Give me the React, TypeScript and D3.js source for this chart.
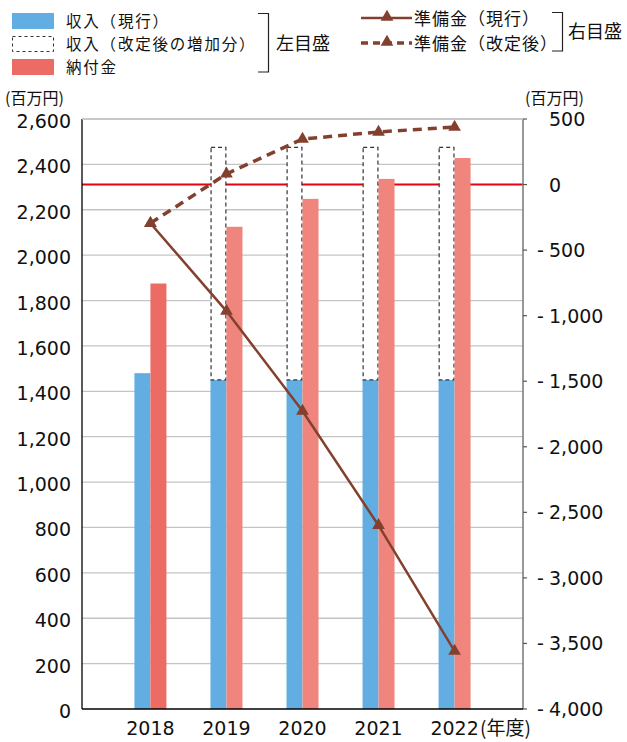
import { useEffect, useRef } from 'react';
import * as d3 from 'd3';

// 年度
const years = ["2018", "2019", "2020", "2021", "2022"];
// 左目盛 (百万円)
const incomeCurrent = [1480, 1450, 1450, 1450, 1450];
const incomeIncrease = [0, 1025, 1025, 1025, 1025];
const payments = [1875, 2125, 2248, 2336, 2428];
// 右目盛 (百万円)
const reserveCurrent = [-295, -965, -1727, -2600, -3558];
const reserveRevised = [-295, 81, 347, 401, 439];

const leftTicks = [0, 200, 400, 600, 800, 1000, 1200, 1400, 1600, 1800, 2000, 2200, 2400, 2600];
const rightTicks = [500, 0, -500, -1000, -1500, -2000, -2500, -3000, -3500, -4000];

const W = 627;
const H = 742;
const JP = "'Noto Sans CJK JP', sans-serif";
const NUM = "'DejaVu Sans', 'Noto Sans CJK JP', sans-serif";

const BLUE = "#62aee2";
const RED = "#f0857d";
const RED_2018 = "#ec6b65";
const BROWN = "#84402f";

export default function App() {
  const svgRef = useRef<SVGSVGElement>(null);

  useEffect(() => {
    if (!svgRef.current) return;
    const svg = d3.select(svgRef.current);
    svg.selectAll("*").remove();

    const left = 82, right = 523, top = 119, bottom = 709;

    const x = d3.scalePoint().domain(years).range([left, right]).padding(0.9);
    const yL = d3.scaleLinear().domain([0, 2600]).range([bottom, top]);
    const yR = d3.scaleLinear().domain([-4000, 500]).range([bottom, top]);
    const barW = 16;

    // grid lines
    svg.append("g")
      .selectAll("line")
      .data(leftTicks.filter(d => d > 0))
      .enter()
      .append("line")
      .attr("x1", left)
      .attr("x2", right)
      .attr("y1", d => yL(d))
      .attr("y2", d => yL(d))
      .attr("stroke", "#c4c4c4")
      .attr("stroke-width", 1.3);

    // zero line of right axis
    svg.append("line")
      .attr("x1", left)
      .attr("x2", right)
      .attr("y1", yR(0))
      .attr("y2", yR(0))
      .attr("stroke", "#e60012")
      .attr("stroke-width", 2);

    // income (current)
    svg.append("g")
      .selectAll("rect")
      .data(years)
      .enter()
      .append("rect")
      .attr("x", d => (x(d) || 0) - barW)
      .attr("width", barW)
      .attr("y", (d, i) => yL(incomeCurrent[i]))
      .attr("height", (d, i) => bottom - yL(incomeCurrent[i]))
      .attr("fill", BLUE);

    // income (revised increase) dashed boxes
    svg.append("g")
      .selectAll("rect")
      .data(years.filter((d, i) => incomeIncrease[i] > 0))
      .enter()
      .append("rect")
      .attr("x", d => (x(d) || 0) - barW + 0.6)
      .attr("width", barW - 1.2)
      .attr("y", d => {
        const i = years.indexOf(d);
        return yL(incomeCurrent[i] + incomeIncrease[i]);
      })
      .attr("height", d => {
        const i = years.indexOf(d);
        return yL(incomeCurrent[i]) - yL(incomeCurrent[i] + incomeIncrease[i]);
      })
      .attr("fill", "#fff")
      .attr("stroke", "#333")
      .attr("stroke-width", 1.2)
      .attr("stroke-dasharray", "4,3");

    // payments
    svg.append("g")
      .selectAll("rect")
      .data(years)
      .enter()
      .append("rect")
      .attr("x", d => x(d) || 0)
      .attr("width", barW)
      .attr("y", (d, i) => yL(payments[i]))
      .attr("height", (d, i) => bottom - yL(payments[i]))
      .attr("fill", (d, i) => (i === 0 ? RED_2018 : RED));

    // axes
    svg.append("line")
      .attr("x1", left).attr("x2", left)
      .attr("y1", top).attr("y2", bottom)
      .attr("stroke", "#000").attr("stroke-width", 1.3);
    svg.append("line")
      .attr("x1", right).attr("x2", right)
      .attr("y1", top).attr("y2", bottom)
      .attr("stroke", "#777").attr("stroke-width", 1.5);
    svg.append("line")
      .attr("x1", left).attr("x2", right)
      .attr("y1", bottom).attr("y2", bottom)
      .attr("stroke", "#000").attr("stroke-width", 1.3);
    svg.append("line")
      .attr("x1", left).attr("x2", right)
      .attr("y1", top).attr("y2", top)
      .attr("stroke", "#c4c4c4").attr("stroke-width", 1.3);

    // reserve lines
    const line = d3.line<number>()
      .x((d, i) => x(years[i]) || 0)
      .y(d => yR(d));

    svg.append("path")
      .datum(reserveRevised)
      .attr("d", line)
      .attr("fill", "none")
      .attr("stroke", BROWN)
      .attr("stroke-width", 3.5)
      .attr("stroke-dasharray", "9,6");

    svg.append("path")
      .datum(reserveCurrent)
      .attr("d", line)
      .attr("fill", "none")
      .attr("stroke", BROWN)
      .attr("stroke-width", 2.5);

    const tri = d3.symbol().type(d3.symbolTriangle).size(70);
    [reserveCurrent, reserveRevised].forEach(series => {
      svg.append("g")
        .selectAll("path")
        .data(series)
        .enter()
        .append("path")
        .attr("d", tri)
        .attr("transform", (d, i) => `translate(${x(years[i])},${yR(d)})`)
        .attr("fill", BROWN);
    });

    // left tick labels
    svg.append("g")
      .selectAll("text")
      .data(leftTicks)
      .enter()
      .append("text")
      .attr("x", 71)
      .attr("y", d => yL(d) + 9)
      .attr("text-anchor", "end")
      .style("font-family", NUM)
      .style("font-size", "19px")
      .attr("fill", "#111")
      .text(d => d3.format(",")(d));

    // right ticks + labels
    const rt = svg.append("g");
    rt.selectAll("line")
      .data(rightTicks)
      .enter()
      .append("line")
      .attr("x1", right)
      .attr("x2", right + 4)
      .attr("y1", d => yR(d))
      .attr("y2", d => yR(d))
      .attr("stroke", "#555")
      .attr("stroke-width", 1.2);
    rt.selectAll("text.num")
      .data(rightTicks)
      .enter()
      .append("text")
      .attr("class", "num")
      .attr("x", 549)
      .attr("y", d => yR(d) + 7)
      .style("font-family", NUM)
      .style("font-size", "19px")
      .attr("fill", "#111")
      .text(d => d3.format(",")(Math.abs(d)));
    rt.selectAll("text.minus")
      .data(rightTicks.filter(d => d < 0))
      .enter()
      .append("text")
      .attr("class", "minus")
      .attr("x", 537)
      .attr("y", d => yR(d) + 7)
      .style("font-family", NUM)
      .style("font-size", "19px")
      .attr("fill", "#111")
      .text("-");

    // x labels
    svg.append("g")
      .selectAll("text")
      .data(years)
      .enter()
      .append("text")
      .attr("x", d => x(d) || 0)
      .attr("y", 735)
      .attr("text-anchor", "middle")
      .style("font-family", NUM)
      .style("font-size", "19px")
      .attr("fill", "#111")
      .text(d => d);
    svg.append("text")
      .attr("x", 480)
      .attr("y", 735)
      .style("font-family", JP)
      .style("font-size", "19px")
      .attr("fill", "#111")
      .text("(年度)");

    // unit labels
    svg.append("text")
      .attr("x", 5).attr("y", 104)
      .style("font-family", JP).style("font-size", "16px").attr("fill", "#111")
      .text("(百万円)");
    svg.append("text")
      .attr("x", 525).attr("y", 104)
      .style("font-family", JP).style("font-size", "16px").attr("fill", "#111")
      .text("(百万円)");

    // legend (left)
    const lg = svg.append("g").style("font-family", JP).attr("fill", "#111");
    lg.append("rect").attr("x", 12).attr("y", 13).attr("width", 42).attr("height", 16).attr("fill", BLUE);
    lg.append("rect").attr("x", 12.5).attr("y", 36.5).attr("width", 41).attr("height", 15)
      .attr("fill", "#fff").attr("stroke", "#333").attr("stroke-width", 1).attr("stroke-dasharray", "3,3");
    lg.append("rect").attr("x", 12).attr("y", 59).attr("width", 42).attr("height", 16).attr("fill", RED_2018);
    const leftItems = ["収入（現行）", "収入（改定後の増加分）", "納付金"];
    lg.selectAll("text.l")
      .data(leftItems)
      .enter()
      .append("text")
      .attr("class", "l")
      .attr("x", 66)
      .attr("y", (d, i) => 27 + i * 23)
      .style("font-size", "15.5px")
      .style("letter-spacing", "1.8px")
      .text(d => d);
    lg.append("path").attr("d", "M258,13.5H268.5V72H258").attr("fill", "none").attr("stroke", "#222").attr("stroke-width", 1.2);
    lg.append("text").attr("x", 276).attr("y", 50).style("font-size", "18px").text("左目盛");

    // legend (right)
    lg.append("line").attr("x1", 361).attr("x2", 412).attr("y1", 18).attr("y2", 18)
      .attr("stroke", BROWN).attr("stroke-width", 2.5);
    lg.append("line").attr("x1", 361).attr("x2", 412).attr("y1", 43).attr("y2", 43)
      .attr("stroke", BROWN).attr("stroke-width", 3.5).attr("stroke-dasharray", "7,5");
    lg.append("path").attr("d", tri).attr("transform", "translate(387,17)").attr("fill", BROWN);
    lg.append("path").attr("d", tri).attr("transform", "translate(387,42)").attr("fill", BROWN);
    const rightItems = ["準備金（現行）", "準備金（改定後）"];
    lg.selectAll("text.r")
      .data(rightItems)
      .enter()
      .append("text")
      .attr("class", "r")
      .attr("x", 414)
      .attr("y", (d, i) => 24.5 + i * 25)
      .style("font-size", "17px")
      .style("letter-spacing", "1px")
      .text(d => d);
    lg.append("path").attr("d", "M552,12.5H562.5V51H552").attr("fill", "none").attr("stroke", "#222").attr("stroke-width", 1.2);
    lg.append("text").attr("x", 568).attr("y", 38).style("font-size", "18px").text("右目盛");
  }, []);

  return (
    <svg
      ref={svgRef}
      width={W}
      height={H}
      style={{ position: "absolute", left: 0, top: 0, background: "#fff" }}
    />
  );
}
